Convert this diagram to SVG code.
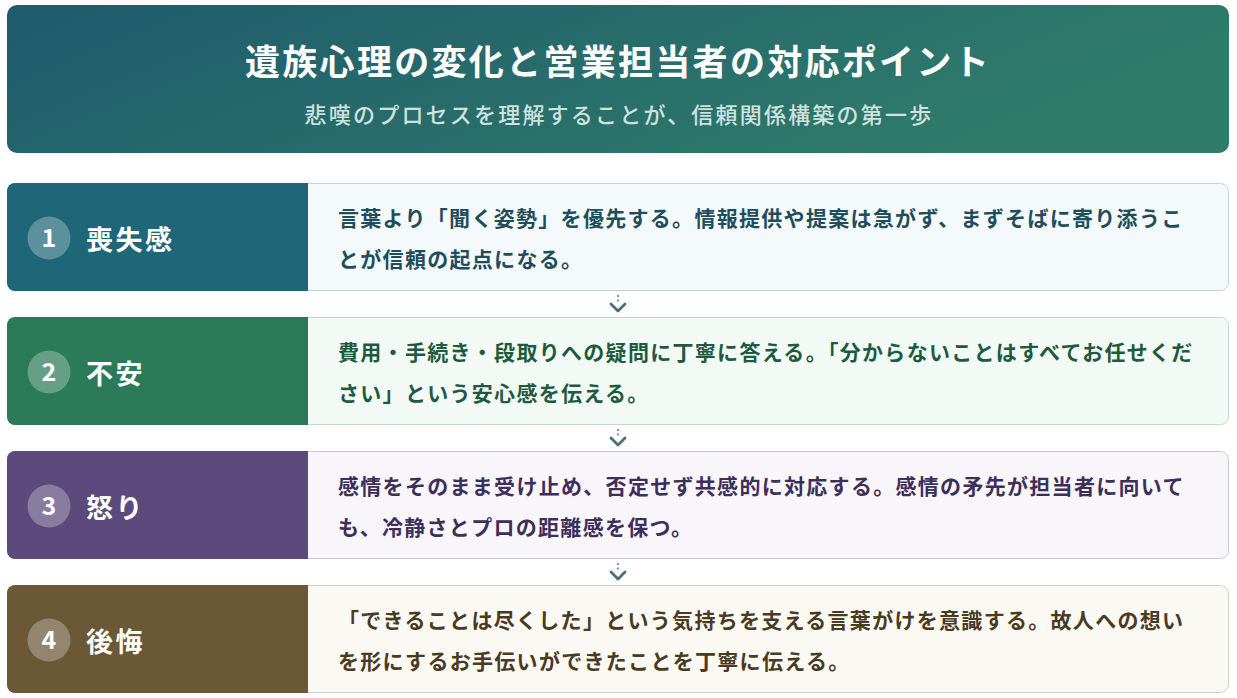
<svg xmlns="http://www.w3.org/2000/svg" width="1237" height="698" viewBox="0 0 1237 698">
<defs>
<linearGradient id="hdr" x1="0" y1="0" x2="1" y2="0.3">
<stop offset="0" stop-color="#1f5a6d"/>
<stop offset="1" stop-color="#2f7c6a"/>
</linearGradient>
<style>
text{font-family:"Noto Sans CJK JP","Noto Sans CJK SC",sans-serif;font-weight:bold}
.title{font-size:35px;fill:#ffffff;letter-spacing:2.3px}
.sub{font-size:22px;fill:#cfe1df;letter-spacing:2.2px;font-weight:500}
.lbl{font-size:27px;fill:#ffffff;letter-spacing:2.5px}
.num{font-size:25px;fill:#ffffff}
.body{font-size:21px;letter-spacing:1.3px}
.badge{fill:#ffffff;fill-opacity:0.28}
.arrow{fill:none;stroke:#4a6f7c;stroke-width:2.8;stroke-linecap:round;stroke-linejoin:round}
.dot{fill:#8aa3ab}
</style>
</defs>
<rect width="1237" height="698" fill="#ffffff"/>

<g id="header">
<rect x="7" y="5" width="1222" height="148" rx="10" fill="url(#hdr)"/>
<text class="title" x="618" y="75" text-anchor="middle">遺族心理の変化と営業担当者の対応ポイント</text>
<text class="sub" x="619" y="123" text-anchor="middle">悲嘆のプロセスを理解することが、信頼関係構築の第一歩</text>
</g>

<g id="card1">
<rect x="7.5" y="183.5" width="1221" height="107" rx="8" fill="#f4fafb" stroke="#bcd5da"/>
<path d="M15,183 H308 V291 H15 A8,8 0 0 1 7,283 V191 A8,8 0 0 1 15,183 Z" fill="#1f6678"/>
<circle class="badge" cx="49" cy="238" r="21.5"/>
<text class="num" x="49" y="247" text-anchor="middle">1</text>
<text class="lbl" x="86" y="250">喪失感</text>
<text class="body" x="338" y="226" fill="#1f4d5c">言葉より「聞く姿勢」を優先する。情報提供や提案は急がず、まずそばに寄り添うこ</text>
<text class="body" x="338" y="267" fill="#1f4d5c">とが信頼の起点になる。</text>
</g>

<g id="card2">
<rect x="7.5" y="317.5" width="1221" height="107" rx="8" fill="#f3faf6" stroke="#bfdccb"/>
<path d="M15,317 H308 V425 H15 A8,8 0 0 1 7,417 V325 A8,8 0 0 1 15,317 Z" fill="#2b7a5a"/>
<circle class="badge" cx="49" cy="372" r="21.5"/>
<text class="num" x="49" y="381" text-anchor="middle">2</text>
<text class="lbl" x="86" y="384">不安</text>
<text class="body" x="338" y="360" fill="#1e5a3e">費用・手続き・段取りへの疑問に丁寧に答える。「分からないことはすべてお任せくだ</text>
<text class="body" x="338" y="401" fill="#1e5a3e">さい」という安心感を伝える。</text>
</g>

<g id="card3">
<rect x="7.5" y="451.5" width="1221" height="107" rx="8" fill="#f8f6fb" stroke="#cdc6da"/>
<path d="M15,451 H308 V559 H15 A8,8 0 0 1 7,551 V459 A8,8 0 0 1 15,451 Z" fill="#5b4a7b"/>
<circle class="badge" cx="49" cy="506" r="21.5"/>
<text class="num" x="49" y="515" text-anchor="middle">3</text>
<text class="lbl" x="86" y="518">怒り</text>
<text class="body" x="338" y="494" fill="#3d2f5a">感情をそのまま受け止め、否定せず共感的に対応する。感情の矛先が担当者に向いて</text>
<text class="body" x="338" y="535" fill="#3d2f5a">も、冷静さとプロの距離感を保つ。</text>
</g>

<g id="card4">
<rect x="7.5" y="585.5" width="1221" height="107" rx="8" fill="#fbf9f4" stroke="#d8d0bf"/>
<path d="M15,585 H308 V693 H15 A8,8 0 0 1 7,685 V593 A8,8 0 0 1 15,585 Z" fill="#6b5836"/>
<circle class="badge" cx="49" cy="640" r="21.5"/>
<text class="num" x="49" y="649" text-anchor="middle">4</text>
<text class="lbl" x="86" y="652">後悔</text>
<text class="body" x="338" y="628" fill="#4a3a1e">「できることは尽くした」という気持ちを支える言葉がけを意識する。故人への想い</text>
<text class="body" x="338" y="669" fill="#4a3a1e">を形にするお手伝いができたことを丁寧に伝える。</text>
</g>

<g id="connectors">
<circle class="dot" cx="618" cy="296" r="1.3"/>
<circle class="dot" cx="618" cy="300.5" r="1.3"/>
<path class="arrow" d="M611,304 L618,311 L625,304"/>
<circle class="dot" cx="618" cy="430" r="1.3"/>
<circle class="dot" cx="618" cy="434.5" r="1.3"/>
<path class="arrow" d="M611,438 L618,445 L625,438"/>
<circle class="dot" cx="618" cy="564" r="1.3"/>
<circle class="dot" cx="618" cy="568.5" r="1.3"/>
<path class="arrow" d="M611,572 L618,579 L625,572"/>
</g>
</svg>
